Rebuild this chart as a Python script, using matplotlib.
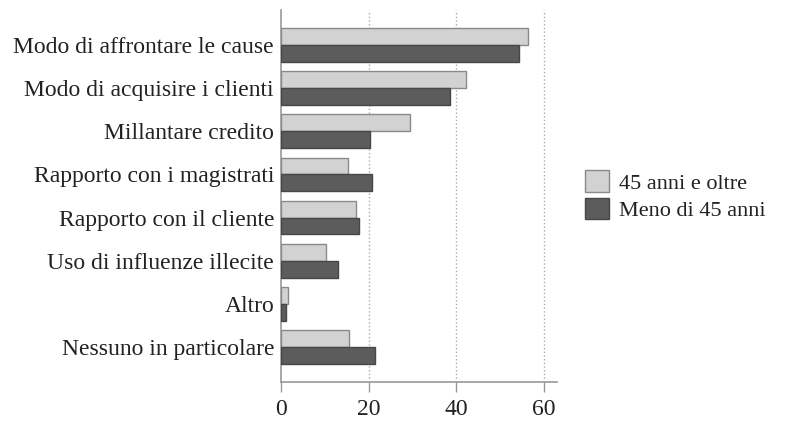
import matplotlib
matplotlib.use("Agg")
import matplotlib.pyplot as plt
import numpy as np

plt.rcParams['font.family'] = ['Liberation Serif', 'DejaVu Serif']

categories = ["Modo di affrontare le cause", "Modo di acquisire i clienti",
              "Millantare credito", "Rapporto con i magistrati",
              "Rapporto con il cliente", "Uso di influenze illecite",
              "Altro", "Nessuno in particolare"]
over45 = [56.3, 42.1, 29.4, 15.3, 17.1, 10.2, 1.6, 15.5]
under45 = [54.2, 38.5, 20.3, 20.7, 17.8, 13.0, 1.1, 21.4]
series_names = ["45 anni e oltre", "Meno di 45 anni"]
xticks = [0, 20, 40, 60]

fig = plt.figure(figsize=(7.85, 4.21), dpi=100)
ax = fig.add_axes([0.358, 0.093, 0.352, 0.883])

y = np.arange(len(categories))
h = 0.39
ax.barh(y - h/2, over45, height=h, color="#d2d2d2", edgecolor="#8a8a8a", linewidth=1, label=series_names[0], zorder=3)
ax.barh(y + h/2, under45, height=h, color="#5c5c5c", edgecolor="#474747", linewidth=1, label=series_names[1], zorder=3)

ax.set_xlim(0, 63)
ax.set_ylim(7.8, -0.8)
ax.set_xticks(xticks)
ax.set_yticks(y)
ax.set_yticklabels(categories, fontsize=17, color="#222222")
ax.tick_params(axis="x", labelsize=17, colors="#999999", labelcolor="#222222", length=7, width=1, pad=5)
ax.tick_params(axis="y", length=0, pad=5)
for t in xticks[1:]:
    ax.axvline(t, color="#aaaaaa", linestyle=":", linewidth=1, zorder=1)

for s in ["top", "right"]:
    ax.spines[s].set_visible(False)
for s in ["left", "bottom"]:
    ax.spines[s].set_color("#999999")
    ax.spines[s].set_linewidth(1.2)

leg = fig.legend(loc="center left", bbox_to_anchor=(0.745, 0.535), frameon=False,
                 fontsize=16, handlelength=1.1, handleheight=1.1, handletextpad=0.45,
                 labelspacing=0.2, borderpad=0, borderaxespad=0)
for t in leg.get_texts():
    t.set_color("#222222")

fig.savefig("out.png", dpi=100)
